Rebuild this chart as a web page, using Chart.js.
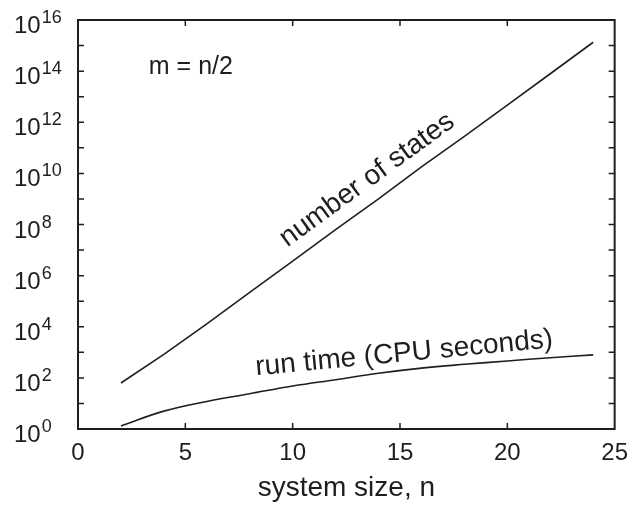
<!DOCTYPE html>
<html>
<head>
<meta charset="utf-8">
<script src="https://cdn.jsdelivr.net/npm/chart.js@4/dist/chart.umd.min.js"></script>
<style>
	body { margin: 0; background: #fff; }
	canvas { display: block; }
</style>
</head>
<body>
<canvas id="chart" width="638" height="510"></canvas>
<script>
// system size n (m = n/2)
var sizes = [2, 4, 6, 8, 10, 12, 14, 16, 18, 20, 22, 24];
var numStates = [63, 830, 1.3e4, 2.2e5, 3.7e6, 6.3e7, 1.0e9, 1.8e10, 2.8e11, 4.7e12, 7.9e13, 1.35e15];
var runTime = [1.32, 5.0, 12, 24, 48, 85, 151, 240, 339, 457, 617, 794];

var xTicks = [0, 5, 10, 15, 20, 25];
var yExponents = [0, 2, 4, 6, 8, 10, 12, 14, 16];

var INK = "#1e1e1e";
var FONT = "'Liberation Sans', Arial, Helvetica, sans-serif";

function toPoints(xs, ys) {
	var pts = [];
	for (var i = 0; i < xs.length; ++i) {
		pts.push({ x: xs[i], y: ys[i] });
	}
	return pts;
}

// inward ticks, box frame, superscript labels and the in-plot notes
var framePlugin = {
	id: "frame",
	afterDraw: function(chart) {
		var ctx = chart.ctx;
		var area = chart.chartArea;
		var xs = chart.scales.x;
		var ys = chart.scales.y;

		ctx.save();
		ctx.strokeStyle = INK;
		ctx.lineWidth = 2;
		ctx.strokeRect(area.left, area.top, area.right - area.left, area.bottom - area.top);

		ctx.lineWidth = 1.5;
		ctx.beginPath();
		for (var i = 1; i < xTicks.length - 1; ++i) {
			var px = xs.getPixelForValue(xTicks[i]);
			ctx.moveTo(px, area.bottom);
			ctx.lineTo(px, area.bottom - 6);
			ctx.moveTo(px, area.top);
			ctx.lineTo(px, area.top + 6);
		}
		for (var e = 1; e < 16; ++e) {
			var py = ys.getPixelForValue(Math.pow(10, e));
			ctx.moveTo(area.left, py);
			ctx.lineTo(area.left + 6, py);
			ctx.moveTo(area.right, py);
			ctx.lineTo(area.right - 6, py);
		}
		ctx.stroke();

		// y labels: 10 with a raised exponent
		ctx.fillStyle = INK;
		ctx.textAlign = "left";
		ctx.textBaseline = "alphabetic";
		for (var j = 0; j < yExponents.length; ++j) {
			var yy = ys.getPixelForValue(Math.pow(10, yExponents[j]));
			ctx.font = "24px " + FONT;
			ctx.fillText("10", 14, yy + 13);
			var w = ctx.measureText("10").width;
			ctx.font = "18px " + FONT;
			ctx.fillText(String(yExponents[j]), 14 + w + 1, yy + 3);
		}

		// notes
		ctx.font = "25px " + FONT;
		ctx.fillText("m = n/2", xs.getPixelForValue(3.3), ys.getPixelForValue(Math.pow(10, 13.9)));

		ctx.font = "28px " + FONT;
		ctx.save();
		ctx.translate(xs.getPixelForValue(9.75), ys.getPixelForValue(Math.pow(10, 7.1)));
		ctx.rotate(-36 * Math.PI / 180);
		ctx.fillText("number of states", 0, 0);
		ctx.restore();

		ctx.save();
		ctx.translate(xs.getPixelForValue(8.3), ys.getPixelForValue(Math.pow(10, 2.1)));
		ctx.rotate(-5.4 * Math.PI / 180);
		ctx.fillText("run time (CPU seconds)", 0, 0);
		ctx.restore();

		ctx.restore();
	}
};

var ctx = document.getElementById("chart").getContext("2d");
var chart = new Chart(ctx, {
	type: "scatter",
	data: {
		datasets: [
			{
				label: "number of states",
				data: toPoints(sizes, numStates),
				showLine: true,
				borderColor: INK,
				borderWidth: 1.6,
				pointRadius: 0
			},
			{
				label: "run time (CPU seconds)",
				data: toPoints(sizes, runTime),
				showLine: true,
				borderColor: INK,
				borderWidth: 1.6,
				pointRadius: 0,
				tension: 0.4
			}
		]
	},
	options: {
		responsive: false,
		animation: false,
		layout: { padding: { top: 20, right: 22, left: 0, bottom: 0 } },
		plugins: {
			legend: { display: false },
			tooltip: { enabled: false }
		},
		scales: {
			x: {
				type: "linear",
				min: 0,
				max: 25,
				grid: { display: false, drawTicks: false },
				border: { display: false },
				ticks: {
					stepSize: 5,
					padding: 10,
					color: INK,
					font: { family: FONT, size: 24 }
				},
				title: {
					display: true,
					text: "system size, n",
					color: INK,
					font: { family: FONT, size: 28 },
					padding: { top: 0, bottom: 5 }
				},
				afterFit: function(scale) { scale.height = 81; }
			},
			y: {
				type: "logarithmic",
				min: 1,
				max: 1e16,
				grid: { display: false, drawTicks: false },
				border: { display: false },
				ticks: { display: false },
				afterFit: function(scale) { scale.width = 78; }
			}
		}
	},
	plugins: [framePlugin]
});
</script>
</body>
</html>
